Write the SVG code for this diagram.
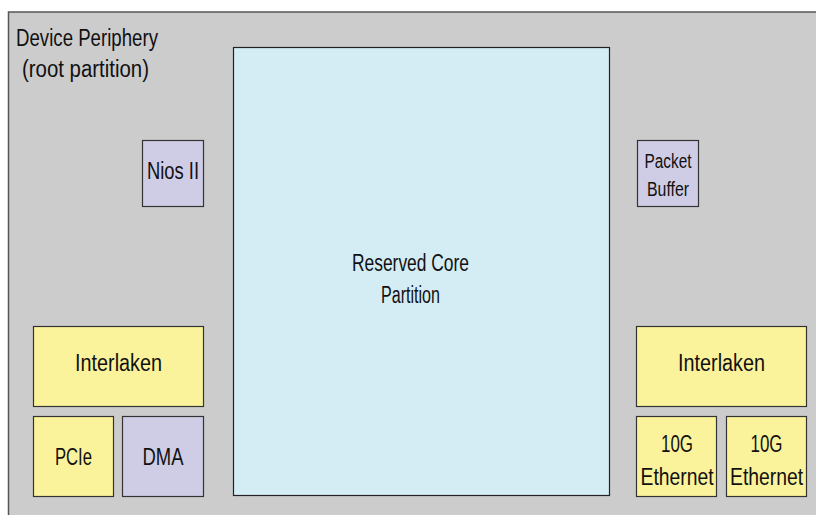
<svg xmlns="http://www.w3.org/2000/svg" width="816" height="515" viewBox="0 0 816 515">
<style>
.t{font-family:"Liberation Sans",Arial,sans-serif;fill:#111;text-anchor:middle;font-size:23px}
.s{font-size:19.5px}
.b{stroke:#333;stroke-width:1.2}
.y{fill:#fbf39b}
.p{fill:#cfcce6}
</style>
<rect x="0" y="0" width="816" height="515" fill="#fff"/>
<g id="periphery">
<rect x="8.5" y="12" width="820" height="520" fill="#cccccc" stroke="#555" stroke-width="1.5"/>
<text class="t" x="87" y="46" textLength="142" lengthAdjust="spacingAndGlyphs">Device Periphery</text>
<text class="t" x="85.5" y="77" textLength="127" lengthAdjust="spacingAndGlyphs">(root partition)</text>
</g>
<g id="core">
<rect x="233.5" y="47.5" width="376" height="448" fill="#d4ecf4" stroke="#222" stroke-width="1.2"/>
<text class="t" x="410.5" y="271" textLength="117" lengthAdjust="spacingAndGlyphs">Reserved Core</text>
<text class="t" x="410.5" y="303" textLength="59" lengthAdjust="spacingAndGlyphs">Partition</text>
</g>
<g id="nios">
<rect class="b p" x="142.5" y="140.5" width="61" height="66"/>
<text class="t" x="173" y="179" textLength="52" lengthAdjust="spacingAndGlyphs">Nios II</text>
</g>
<g id="packetbuffer">
<rect class="b p" x="637.5" y="140.5" width="61" height="66"/>
<text class="t s" x="668" y="168" textLength="47" lengthAdjust="spacingAndGlyphs">Packet</text>
<text class="t s" x="668" y="196" textLength="42" lengthAdjust="spacingAndGlyphs">Buffer</text>
</g>
<g id="interlaken-left">
<rect class="b y" x="33.5" y="326.5" width="170" height="80"/>
<text class="t" x="118.5" y="371" textLength="87" lengthAdjust="spacingAndGlyphs">Interlaken</text>
</g>
<g id="pcie">
<rect class="b y" x="33.5" y="416.5" width="80" height="80"/>
<text class="t" x="73.5" y="465" textLength="37" lengthAdjust="spacingAndGlyphs">PCIe</text>
</g>
<g id="dma">
<rect class="b p" x="122.5" y="416.5" width="81" height="80"/>
<text class="t" x="163" y="465" textLength="41" lengthAdjust="spacingAndGlyphs">DMA</text>
</g>
<g id="interlaken-right">
<rect class="b y" x="636.5" y="326.5" width="170" height="80"/>
<text class="t" x="721.5" y="371" textLength="87" lengthAdjust="spacingAndGlyphs">Interlaken</text>
</g>
<g id="eth1">
<rect class="b y" x="636.5" y="416.5" width="80" height="80"/>
<text class="t" x="677" y="452" textLength="32" lengthAdjust="spacingAndGlyphs">10G</text>
<text class="t" x="677" y="485" textLength="73" lengthAdjust="spacingAndGlyphs">Ethernet</text>
</g>
<g id="eth2">
<rect class="b y" x="726.5" y="416.5" width="80" height="80"/>
<text class="t" x="766.5" y="452" textLength="32" lengthAdjust="spacingAndGlyphs">10G</text>
<text class="t" x="766.5" y="485" textLength="73" lengthAdjust="spacingAndGlyphs">Ethernet</text>
</g>
<g id="connectors"/>
</svg>
